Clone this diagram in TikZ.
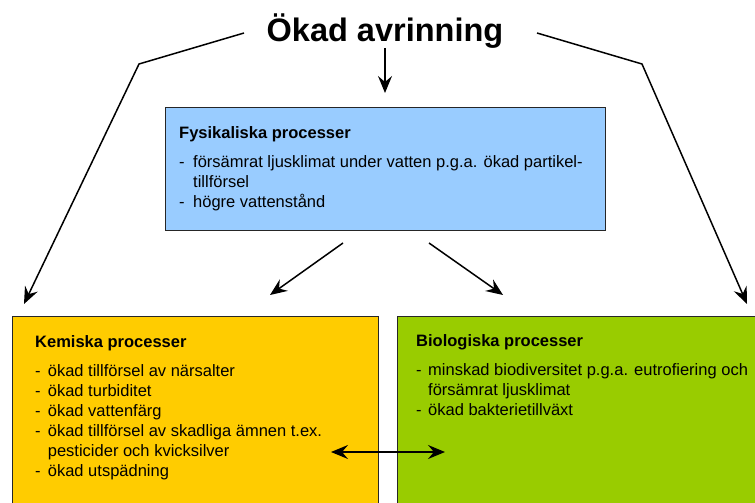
\documentclass[tikz,border=0pt]{standalone}
\usepackage{fontspec}
\setmainfont{Liberation Sans}
\usetikzlibrary{arrows.meta}
\definecolor{physblue}{HTML}{99CCFF}
\definecolor{kemyellow}{HTML}{FFCC00}
\definecolor{biogreen}{HTML}{99CC00}
\newcommand{\dashitem}[1]{\makebox[#1][l]{-}}
\begin{document}
\begin{tikzpicture}[x=1pt,y=-1pt,
  procbox/.style={draw=black!85, line width=0.9pt, rectangle, inner sep=0pt, anchor=north west},
  txt/.style={inner sep=0pt, anchor=base west, font=\fontsize{16.5}{20}\selectfont},
  tip/.tip={Stealth[length=17pt,width=14pt,inset=6pt]},
  arr/.style={line width=1.5pt, -tip, line join=miter}
]
\useasboundingbox (0,0) rectangle (755,503);
\clip (0,0) rectangle (755,503);
\fill[white] (0,0) rectangle (755,503);

% boxes
\node[procbox, fill=physblue, minimum width=440pt, minimum height=123pt] (phys) at (165,107) {};
\node[procbox, fill=kemyellow, minimum width=366pt, minimum height=210pt] (kem) at (12,316) {};
\node[procbox, fill=biogreen, minimum width=380pt, minimum height=210pt] (bio) at (397,316) {};

% title
\node[inner sep=0pt, anchor=base, font=\fontsize{32.5}{39}\bfseries\selectfont] (title) at (385,42) {Ökad avrinning};

% texts
\node[txt] (physT) at (179,138.5) {\begin{tabular}[t]{@{}l@{}}
\textbf{Fysikaliska processer}\\[8.5pt]
\dashitem{14pt}försämrat ljusklimat under vatten p.g.a. ökad partikel-\\
\hspace*{14pt}tillförsel\\
\dashitem{14pt}högre vattenstånd
\end{tabular}};

\node[txt] (kemT) at (35,347) {\begin{tabular}[t]{@{}l@{}}
\textbf{Kemiska processer}\\[9pt]
\dashitem{12.7pt}ökad tillförsel av närsalter\\
\dashitem{12.7pt}ökad turbiditet\\
\dashitem{12.7pt}ökad vattenfärg\\
\dashitem{12.7pt}ökad tillförsel av skadliga ämnen t.ex.\\
\hspace*{12.7pt}pesticider och kvicksilver\\
\dashitem{12.7pt}ökad utspädning
\end{tabular}};

\node[txt] (bioT) at (416,346.5) {\begin{tabular}[t]{@{}l@{}}
\textbf{Biologiska processer}\\[9pt]
\dashitem{12pt}minskad biodiversitet p.g.a. eutrofiering och\\
\hspace*{12pt}försämrat ljusklimat\\
\dashitem{12pt}ökad bakterietillväxt
\end{tabular}};

% connector points
\coordinate (tl) at (244,33);
\coordinate (tlc) at (139,64);
\coordinate (kemin) at (24,304);
\coordinate (tr) at (537,33);
\coordinate (trc) at (642,64);
\coordinate (bioin) at (747,304);
\coordinate (td) at (385,48);
\coordinate (physin) at (385,93);
\coordinate (pl) at (343,243);
\coordinate (kemin2) at (270,295);
\coordinate (pr) at (429,243);
\coordinate (bioin2) at (503,295);
\coordinate (dl) at (331,452);
\coordinate (dr) at (445,452);

\draw[arr] (tl) -- (tlc) -- (kemin);
\draw[arr] (tr) -- (trc) -- (bioin);
\draw[arr] (td) -- (physin);
\draw[arr] (pl) -- (kemin2);
\draw[arr] (pr) -- (bioin2);
\draw[arr, tip-tip] (dl) -- (dr);
\end{tikzpicture}
\end{document}
